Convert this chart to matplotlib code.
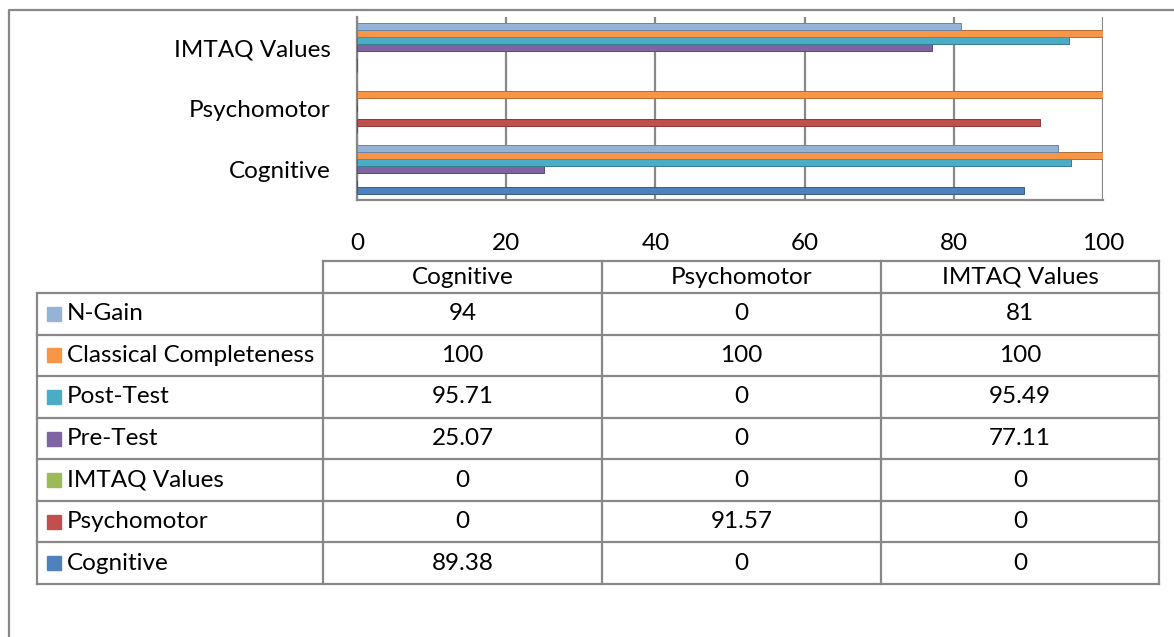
import matplotlib.pyplot as plt
import numpy as np

categories = ["Cognitive", "Psychomotor", "IMTAQ Values"]
series = ["Cognitive", "Psychomotor", "IMTAQ Values", "Pre-Test", "Post-Test",
          "Classical Completeness", "N-Gain"]
values = [
    [89.38, 0, 0],        # Cognitive
    [0, 91.57, 0],        # Psychomotor
    [0, 0, 0],            # IMTAQ Values
    [25.07, 0, 77.11],    # Pre-Test
    [95.71, 0, 95.49],    # Post-Test
    [100, 100, 100],      # Classical Completeness
    [94, 0, 81],          # N-Gain
]
colors = ["#4F81BD", "#C0504D", "#9BBB59", "#8064A2", "#4BACC6", "#F79646", "#95B3D7"]
edges = ["#385D8A", "#8C3836", "#71893F", "#5C4776", "#357D91", "#B66D31", "#6D85A3"]
xticks = [0, 20, 40, 60, 80, 100]

W, H = 1174, 637
fnt = "Lato"
fs = 17.5
grey = "#888888"

fig = plt.figure(figsize=(W / 100, H / 100), dpi=100)

# overlay in pixel coordinates for frame and table
ov = fig.add_axes([0, 0, 1, 1])
ov.set_xlim(0, W)
ov.set_ylim(H, 0)
ov.axis("off")

# outer frame
ov.plot([9, 9, W], [H, 10, 10], color=grey, lw=1.6)

# bar chart
ax = fig.add_axes([357 / W, 1 - 200 / H, (1103 - 357) / W, (200 - 17) / H])
y = np.arange(len(categories))
slot = 7 / 61
for i, s in enumerate(series):
    ax.barh(y + (i - 3) * slot, values[i], height=0.105, color=colors[i],
            edgecolor=edges[i], linewidth=0.7, zorder=3)
ax.set_xlim(0, 100)
ax.set_ylim(-0.5, 2.5)
ax.set_xticks(xticks)
ax.set_yticks(y)
ax.set_yticklabels(categories, fontfamily=fnt, fontsize=fs)
for lab in ax.get_xticklabels():
    lab.set_fontfamily(fnt)
    lab.set_fontsize(fs)
ax.tick_params(axis="x", length=0, pad=24)
ax.tick_params(axis="y", length=0, pad=19)
ax.grid(axis="x", color=grey, lw=1.6, zorder=0)
for side in ["top", "right"]:
    ax.spines[side].set_visible(False)
for side in ["left", "bottom"]:
    ax.spines[side].set_color(grey)
    ax.spines[side].set_linewidth(1.6)

# data table
left, c0, c1, c2, right = 37, 323, 602, 881, 1159
top, hdr, bottom = 261, 293, 584
row_h = (bottom - hdr) / 7
lw = 1.6
ov.plot([c0, right], [top, top], color=grey, lw=lw)
for cx in [c0, c1, c2, right]:
    ov.plot([cx, cx], [top, bottom], color=grey, lw=lw)
ov.plot([left, left], [hdr, bottom], color=grey, lw=lw)
for k in range(8):
    yy = hdr + k * row_h
    ov.plot([left, right], [yy, yy], color=grey, lw=lw)

col_centers = [(c0 + c1) / 2, (c1 + c2) / 2, (c2 + right) / 2]
for j, cat in enumerate(categories):
    ov.text(col_centers[j], (top + hdr) / 2, cat, ha="center", va="center",
            fontfamily=fnt, fontsize=fs)

order = list(range(len(series)))[::-1]
for r, i in enumerate(order):
    yc = hdr + (r + 0.5) * row_h
    ov.add_patch(plt.Rectangle((47, yc - 7), 14, 14, color=colors[i]))
    ov.text(67, yc, series[i], ha="left", va="center", fontfamily=fnt, fontsize=fs)
    for j in range(len(categories)):
        ov.text(col_centers[j], yc, f"{values[i][j]:g}", ha="center", va="center",
                fontfamily=fnt, fontsize=fs)

fig.savefig("out.png", dpi=100)
